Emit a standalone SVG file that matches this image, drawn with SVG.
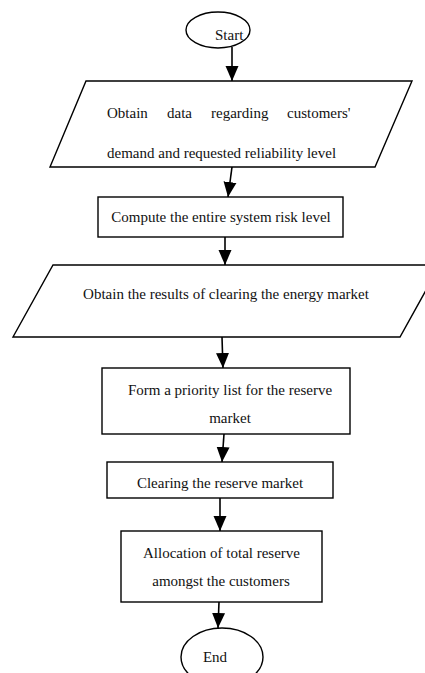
<svg xmlns="http://www.w3.org/2000/svg" width="425" height="673" viewBox="0 0 425 673">
<style>
.s{fill:#fff;stroke:#000;stroke-width:1.4}
.t{font-family:"Liberation Serif","Times New Roman",serif;font-size:15px;fill:#111}
.m{text-anchor:middle}
.c{stroke:#000;stroke-width:1.6;fill:none}
</style>
<defs>
<marker id="ah" markerUnits="userSpaceOnUse" markerWidth="16" markerHeight="14" refX="15" refY="7" orient="auto" viewBox="0 0 16 14">
<path d="M0,0.5 L15,7 L0,13.5 Z" fill="#000"/>
</marker>
</defs>
<rect width="425" height="673" fill="#fff"/>
<g id="start">
<ellipse class="s" cx="218" cy="30" rx="32" ry="18"/>
<text class="t" x="215" y="40">Start</text>
</g>
<g id="obtain-data">
<polygon class="s" points="86,81 412,81 375,167 50,167"/>
<text class="t" y="118"><tspan x="107">Obtain</tspan><tspan x="167">data</tspan><tspan x="211">regarding</tspan><tspan x="287">customers'</tspan></text>
<text class="t" x="107" y="158">demand and requested reliability level</text>
</g>
<g id="compute-risk">
<rect class="s" x="98" y="197" width="245" height="40"/>
<text class="t m" x="221" y="222">Compute the entire system risk level</text>
</g>
<g id="obtain-results">
<polygon class="s" points="53,265 440,265 400,337 13,337"/>
<text class="t m" x="226" y="299">Obtain the results of clearing the energy market</text>
</g>
<g id="priority-list">
<rect class="s" x="102" y="368" width="248" height="66"/>
<text class="t m" x="230" y="395">Form a priority list for the reserve</text>
<text class="t m" x="230" y="423">market</text>
</g>
<g id="clearing-reserve">
<rect class="s" x="107" y="462" width="226" height="36"/>
<text class="t m" x="220" y="488">Clearing the reserve market</text>
</g>
<g id="allocation">
<rect class="s" x="121" y="531" width="201" height="71"/>
<text class="t m" x="221.5" y="558">Allocation of total reserve</text>
<text class="t m" x="221" y="586">amongst the customers</text>
</g>
<g id="end">
<ellipse class="s" cx="222" cy="657" rx="41" ry="29"/>
<text class="t m" x="215" y="662">End</text>
</g>
<g id="connectors">
<path class="c" d="M232,47 L232,81" marker-end="url(#ah)"/>
<path class="c" d="M232,167 L228,197" marker-end="url(#ah)"/>
<path class="c" d="M225,237 L225,265" marker-end="url(#ah)"/>
<path class="c" d="M222,337 L223,368" marker-end="url(#ah)"/>
<path class="c" d="M224,434 L222,462" marker-end="url(#ah)"/>
<path class="c" d="M220,498 L220,531" marker-end="url(#ah)"/>
<path class="c" d="M219,602 L218,628" marker-end="url(#ah)"/>
</g>
</svg>
